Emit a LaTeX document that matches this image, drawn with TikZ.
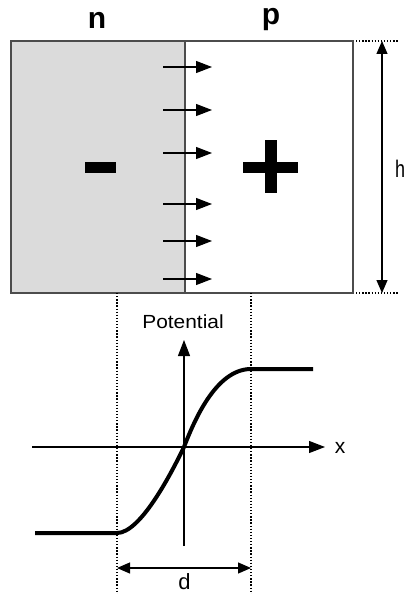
\documentclass[tikz,border=0pt]{standalone}
\usepackage{fontspec}
\setmainfont{Liberation Sans}
\usetikzlibrary{arrows.meta}
\begin{document}
\begin{tikzpicture}[x=1pt,y=-1pt,
  fieldarrow/.style={line width=1.2pt,-{Triangle[length=16pt,width=12pt]}},
  dimarrow/.style={line width=1.2pt,{Triangle[length=13pt,width=11pt]}-{Triangle[length=13pt,width=11pt]}},
  axisarrow/.style={line width=1.2pt,-{Triangle[length=16pt,width=12pt]}},
  guide/.style={line width=1.3pt,dash pattern=on 1.3pt off 1.8pt},
  border/.style={line width=1.1pt,black!70},
  potcurve/.style={line width=4pt},
  bar/.style={fill=black},
  lbl/.style={inner sep=0pt,anchor=base}]
\useasboundingbox (0,0) rectangle (405,594);
% regions
\fill[gray!28] (11,41) rectangle (185,293);
\draw[border] (11,41) rectangle (353,293);
\coordinate (jt) at (185,41);
\coordinate (jb) at (185,293);
\draw[border] (jt) -- (jb);
% labels n p
\node[lbl,font=\bfseries\fontsize{30}{30}\selectfont] (nlab) at (97,29) {n};
\node[lbl,font=\bfseries\fontsize{30}{30}\selectfont] (plab) at (271,25) {p};
% signs
\fill[bar] (85,162) rectangle (116,173);
\fill[bar] (243,162) rectangle (298,173);
\fill[bar] (265,140) rectangle (277,193);
% field arrows
\foreach \i/\yy in {1/67,2/110,3/153,4/204,5/241,6/279}{
  \coordinate (fs\i) at (163,\yy);
  \coordinate (fe\i) at (212,\yy);
  \draw[fieldarrow] (fs\i) -- (fe\i);
}
% height dimension
\coordinate (ht1) at (356,41); \coordinate (ht2) at (399,41);
\coordinate (hb1) at (356,293); \coordinate (hb2) at (399,293);
\draw[guide] (ht1) -- (ht2);
\draw[guide] (hb1) -- (hb2);
\coordinate (ha) at (382,41); \coordinate (hb) at (382,293);
\draw[dimarrow] (ha) -- (hb);
\node[lbl,font=\fontsize{24}{24}\selectfont] (hlab) at (400,177) {\scalebox{0.75}[1]{h}};
% dotted guides
\coordinate (g1t) at (117,293); \coordinate (g1b) at (117,594);
\coordinate (g2t) at (251,293); \coordinate (g2b) at (251,594);
\draw[guide] (g1t) -- (g1b);
\draw[guide] (g2t) -- (g2b);
% axes
\coordinate (vb) at (184,546); \coordinate (vt) at (184,340);
\coordinate (hl) at (32,447); \coordinate (hr) at (325,447);
\draw[axisarrow] (vb) -- (vt);
\draw[axisarrow] (hl) -- (hr);
\node[lbl,font=\fontsize{19}{19}\selectfont] (potlab) at (183,328) {\scalebox{1.1}[1]{Potential}};
\node[lbl,font=\fontsize{21}{21}\selectfont] (xlab) at (340,453) {x};
% potential curve
\coordinate (c0) at (35,533); \coordinate (c1) at (117,533);
\coordinate (c2) at (184,447); \coordinate (c3) at (251,369);
\coordinate (c4) at (313,369);
\draw[potcurve] (c0) -- (c1) .. controls (140,533) and (170,476) .. (c2)
  .. controls (193,424) and (215,369) .. (c3) -- (c4);
% depletion width
\coordinate (da) at (117,568); \coordinate (db) at (251,568);
\draw[dimarrow] (da) -- (db);
\node[lbl,font=\fontsize{22}{22}\selectfont] (dlab) at (184.5,589) {d};
\end{tikzpicture}
\end{document}
